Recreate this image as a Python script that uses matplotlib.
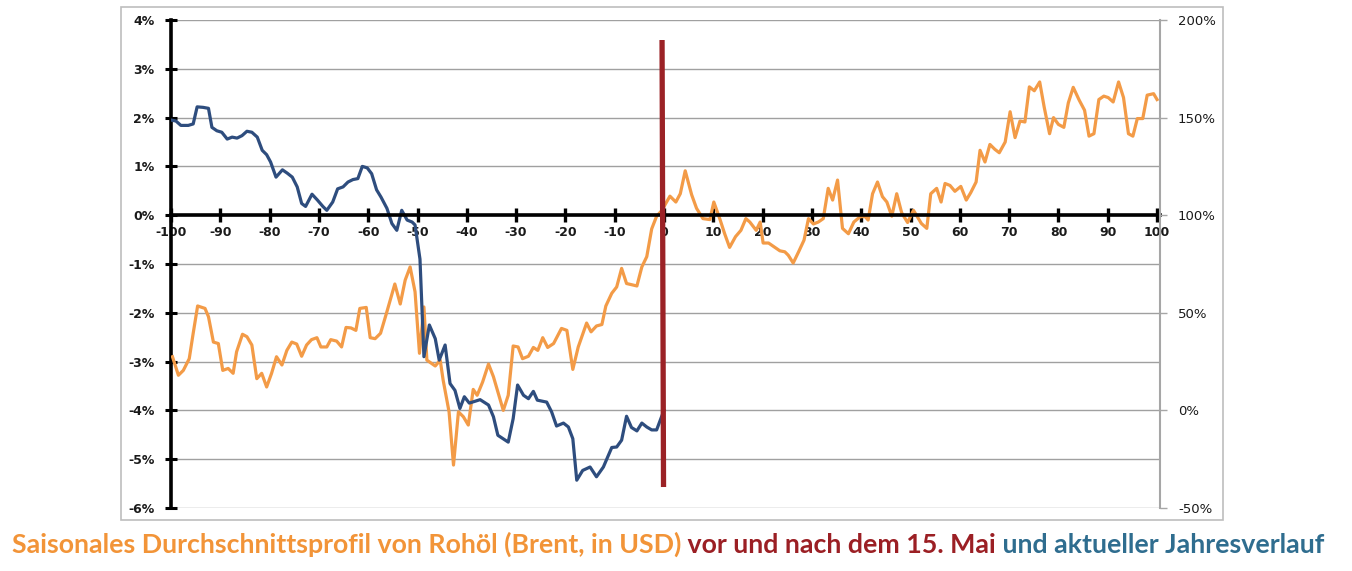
import matplotlib
matplotlib.use("Agg")
import matplotlib.pyplot as plt
from matplotlib.patches import Rectangle

# Aktueller Jahresverlauf (linke Achse, in %)
blue_day = [-100, -99, -98, -96.5, -95.5, -94.7, -93.5, -92.4, -91.7, -90.7,
            -89.7, -88.6, -87.6, -86.6, -85.6, -84.6, -83.6, -82.5, -81.5, -80.6,
            -79.8, -78.7, -77.4, -76.4, -75.4, -74.4, -73.5, -72.7, -71.4, -70.3,
            -69.2, -68.4, -67.2, -66.2, -65.1, -64.1, -63.1, -62.1, -61.2, -60.2,
            -59.3, -58.3, -57.4, -56.2, -55.2, -54.2, -53.2, -52.1, -51.1, -50.5,
            -49.5, -48.7, -47.6, -46.4, -45.6, -44.4, -43.4, -42.4, -41.4, -40.5,
            -39.5, -37.3, -35.6, -34.6, -33.7, -31.6, -30.6, -29.7, -28.5, -27.5,
            -26.5, -25.7, -23.8, -22.8, -21.8, -20.4, -19.4, -18.5, -17.7, -16.5,
            -15.0, -13.7, -12.3, -10.6, -9.6, -8.6, -7.6, -6.6, -5.5, -4.5,
            -3.5, -2.5, -1.5, -0.5, 0]
blue_pct = [1.95, 1.93, 1.84, 1.84, 1.87, 2.22, 2.21, 2.19, 1.80, 1.73,
            1.70, 1.56, 1.60, 1.58, 1.63, 1.72, 1.70, 1.60, 1.33, 1.24,
            1.09, 0.78, 0.93, 0.86, 0.78, 0.58, 0.24, 0.18, 0.43, 0.31,
            0.18, 0.10, 0.27, 0.54, 0.58, 0.68, 0.73, 0.75, 1.00, 0.97,
            0.85, 0.52, 0.37, 0.14, -0.17, -0.31, 0.10, -0.10, -0.14, -0.20,
            -0.90, -2.90, -2.25, -2.53, -2.97, -2.66, -3.45, -3.59, -3.96, -3.72,
            -3.85, -3.78, -3.89, -4.13, -4.51, -4.65, -4.17, -3.48, -3.69, -3.76,
            -3.61, -3.79, -3.83, -4.03, -4.32, -4.26, -4.34, -4.58, -5.43, -5.23,
            -5.16, -5.36, -5.16, -4.76, -4.75, -4.61, -4.12, -4.35, -4.42, -4.26,
            -4.34, -4.40, -4.40, -4.13, -4.00]

# Saisonales Durchschnittsprofil (linke Achse, in %)
orange_day = [-99.7, -98.5, -97.5, -96.3, -95.5, -94.6, -93.1, -92.4, -91.4, -90.4,
              -89.5, -88.4, -87.4, -86.7, -85.5, -84.6, -83.6, -82.6, -81.6, -80.6,
              -79.6, -78.6, -77.5, -76.5, -75.5, -74.5, -73.5, -72.5, -71.5, -70.4,
              -69.6, -68.4, -67.6, -66.4, -65.4, -64.5, -63.5, -62.5, -61.7, -60.4,
              -59.6, -58.6, -57.5, -56.3, -54.6, -53.5, -52.5, -51.5, -50.5, -49.6,
              -48.7, -48.1, -47.1, -46.4, -45.4, -44.8, -43.6, -42.7, -41.7, -40.7,
              -39.7, -38.7, -37.9, -36.8, -35.6, -34.6, -32.6, -31.6, -30.6, -29.6,
              -28.7, -27.5, -26.5, -25.6, -24.6, -23.6, -22.4, -20.8, -19.7, -18.5,
              -17.4, -15.7, -14.8, -13.7, -12.6, -11.8, -10.6, -9.6, -8.6, -7.6,
              -5.5, -4.5, -3.5, -2.5, -1.5, -0.5, 1.2, 2.4, 3.3, 4.3,
              5.6, 6.6, 7.9, 9.3, 10.1, 11.3, 12.3, 13.3, 14.5, 15.6,
              16.6, 17.4, 18.7, 19.5, 20.1, 21.2, 22.2, 23.5, 24.5, 25.2,
              26.2, 27.3, 28.4, 29.3, 30.3, 31.3, 32.3, 33.3, 34.2, 35.2,
              36.2, 37.4, 38.5, 39.8, 40.8, 41.4, 42.3, 43.3, 44.3, 45.2,
              46.2, 47.2, 48.2, 49.4, 50.6, 52.2, 53.3, 54.1, 55.3, 56.2,
              57.0, 58.0, 59.0, 60.2, 61.3, 62.2, 63.3, 64.1, 65.1, 66.1,
              67.1, 68.0, 69.2, 70.2, 71.2, 72.2, 73.2, 74.1, 75.1, 76.2,
              77.1, 78.2, 79.0, 80.0, 81.1, 82.0, 83.0, 84.2, 85.3, 86.2,
              87.2, 88.2, 89.2, 90.1, 91.1, 92.2, 93.2, 94.2, 95.1, 96.0,
              97.1, 98.0, 99.3, 100.0]
orange_pct = [-2.90, -3.28, -3.18, -2.94, -2.42, -1.86, -1.91, -2.08, -2.60, -2.63,
              -3.18, -3.14, -3.24, -2.80, -2.44, -2.49, -2.66, -3.35, -3.24, -3.52,
              -3.24, -2.90, -3.07, -2.77, -2.60, -2.64, -2.89, -2.66, -2.55, -2.51,
              -2.70, -2.70, -2.55, -2.58, -2.70, -2.30, -2.31, -2.36, -1.91, -1.89,
              -2.51, -2.53, -2.42, -2.01, -1.41, -1.82, -1.33, -1.06, -1.57, -2.83,
              -1.88, -2.97, -3.04, -3.09, -2.97, -3.38, -4.03, -5.12, -4.03, -4.13,
              -4.30, -3.57, -3.69, -3.42, -3.05, -3.31, -4.00, -3.69, -2.68, -2.70,
              -2.94, -2.89, -2.71, -2.77, -2.51, -2.71, -2.63, -2.32, -2.36, -3.16,
              -2.70, -2.21, -2.39, -2.27, -2.24, -1.86, -1.60, -1.47, -1.09, -1.40,
              -1.45, -1.06, -0.85, -0.28, -0.02, 0.09, 0.39, 0.27, 0.44, 0.91,
              0.42, 0.14, -0.07, -0.09, 0.27, -0.07, -0.38, -0.66, -0.44, -0.31,
              -0.07, -0.14, -0.31, -0.14, -0.57, -0.57, -0.64, -0.73, -0.75, -0.82,
              -0.98, -0.75, -0.51, -0.07, -0.18, -0.14, -0.07, 0.55, 0.31, 0.72,
              -0.27, -0.38, -0.14, -0.03, -0.03, -0.10, 0.44, 0.68, 0.38, 0.27,
              -0.02, 0.44, 0.05, -0.15, 0.10, -0.17, -0.27, 0.44, 0.55, 0.27,
              0.65, 0.61, 0.49, 0.59, 0.31, 0.46, 0.68, 1.33, 1.09, 1.45,
              1.35, 1.28, 1.50, 2.12, 1.59, 1.93, 1.91, 2.63, 2.55, 2.73,
              2.22, 1.67, 2.00, 1.86, 1.80, 2.30, 2.62, 2.36, 2.15, 1.62,
              1.67, 2.37, 2.44, 2.41, 2.32, 2.73, 2.41, 1.67, 1.62, 1.98,
              1.98, 2.46, 2.49, 2.37]

# Stichtag 15. Mai (Tag 0), Markierung in Einheiten der linken Achse
marker_day = [-0.4, -0.1]
marker_pct = [3.59, -5.57]

x_ticks = list(range(-100, 101, 10))
x_labels = [str(t) for t in x_ticks]
left_ticks = [4, 3, 2, 1, 0, -1, -2, -3, -4, -5, -6]
left_labels = ["4%", "3%", "2%", "1%", "0%", "-1%", "-2%", "-3%", "-4%", "-5%", "-6%"]
right_ticks = [200, 150, 100, 50, 0, -50]
right_labels = ["200%", "150%", "100%", "50%", "0%", "-50%"]

title_parts = ["Saisonales Durchschnittsprofil von Rohöl (Brent, in USD)",
               " vor und nach dem 15. Mai",
               " und aktueller Jahresverlauf"]
title_colors = ["#F29438", "#9B1F24", "#2F6D8F"]

ORANGE = "#F39B47"
BLUE = "#2E4D7E"
RED = "#9B2226"

W, H = 1352, 571
fig = plt.figure(figsize=(W / 100, H / 100), dpi=100)

# Rahmen um das Diagramm
fig.patches.append(Rectangle((121 / W, 1 - 520 / H), (1223 - 121) / W, (520 - 7) / H,
                             transform=fig.transFigure, fill=False,
                             edgecolor="#BDBDBD", linewidth=1.2))

ax = fig.add_axes([171 / W, 1 - 508 / H, (1160 - 171) / W, (508 - 20) / H])
ax.set_xlim(-100, 100.6)
ax.set_ylim(-6, 4)

for t in left_ticks:
    ax.axhline(t, color="#A0A0A0", linewidth=1, zorder=0)

ax.plot(orange_day, orange_pct, color=ORANGE, linewidth=2.3, zorder=3)
ax.plot(blue_day, blue_pct, color=BLUE, linewidth=2.3, zorder=4)
ax.plot(marker_day, marker_pct, color=RED, linewidth=3.8, zorder=6,
        solid_capstyle="butt")

ax.spines["top"].set_visible(False)
ax.spines["right"].set_visible(False)
ax.spines["left"].set_linewidth(2.6)
ax.spines["bottom"].set_position(("data", 0))
ax.spines["bottom"].set_linewidth(2.6)
ax.spines["bottom"].set_zorder(5)

ax.set_xticks(x_ticks)
ax.set_xticklabels(x_labels, fontsize=9, fontweight="bold", color="#1A1A1A")
ax.tick_params(axis="x", direction="inout", length=10, width=2.4, pad=3)
ax.set_yticks(left_ticks)
ax.set_yticklabels(left_labels, fontsize=9, fontweight="bold", color="#1A1A1A")
ax.tick_params(axis="y", direction="inout", length=8, width=2.2, pad=8)

ax2 = ax.twinx()
ax2.set_ylim(-50, 200)
ax2.set_yticks(right_ticks)
ax2.set_yticklabels(right_labels, fontsize=9.5, color="#1A1A1A")
ax2.tick_params(axis="y", direction="out", length=5, width=1, color="#A6A6A6", pad=8)
for s in ["top", "left", "bottom"]:
    ax2.spines[s].set_visible(False)
ax2.spines["right"].set_color("#A6A6A6")
ax2.spines["right"].set_linewidth(1.5)

# Untertitel in drei Farben, aneinandergereiht
prev = fig.text(12 / W, 0.025, title_parts[0], color=title_colors[0], fontsize=19.3,
                fontweight="bold", family="Lato", va="bottom", ha="left")
for part, col in zip(title_parts[1:], title_colors[1:]):
    prev = ax.annotate(part, xy=(1, 0), xycoords=prev, va="bottom", ha="left",
                       color=col, fontsize=19.3, fontweight="bold", family="Lato",
                       annotation_clip=False)

fig.savefig("out.png", dpi=100)
